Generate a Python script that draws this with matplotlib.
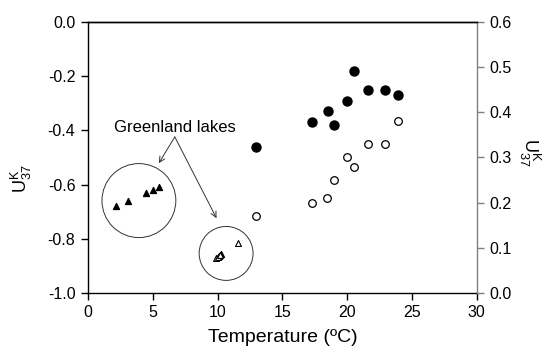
import matplotlib
matplotlib.use("Agg")
import matplotlib.pyplot as plt
from matplotlib.patches import Ellipse

plt.rcParams['font.family'] = ['Liberation Sans', 'DejaVu Sans']
plt.rcParams['mathtext.fontset'] = 'custom'
plt.rcParams['mathtext.rm'] = 'Liberation Sans'
plt.rcParams['mathtext.it'] = 'Liberation Sans'

# Filled circles: UK37 (left axis)
uk37_temp = [13.0, 17.3, 18.5, 19.0, 20.0, 20.5, 21.6, 22.9, 23.9]
uk37_vals = [-0.46, -0.37, -0.33, -0.38, -0.29, -0.18, -0.25, -0.25, -0.27]
# Open circles: UK'37 (right axis)
uk37p_temp = [12.95, 17.25, 18.45, 19.0, 20.0, 20.5, 21.6, 22.9, 23.95]
uk37p_vals = [0.17, 0.20, 0.21, 0.25, 0.30, 0.28, 0.33, 0.33, 0.38]
# Greenland lakes, filled triangles (left axis)
gl_temp = [2.15, 3.1, 4.5, 5.0, 5.45, 10.1, 10.3]
gl_vals = [-0.68, -0.66, -0.63, -0.62, -0.61, -0.862, -0.857]
# Greenland lakes, open triangles (right axis)
glp_temp = [9.9, 10.05, 10.2, 11.55]
glp_vals = [0.077, 0.080, 0.083, 0.111]

fig = plt.figure(figsize=(5.43, 3.58), dpi=100)
ax = fig.add_axes([0.162, 0.1816, 0.716, 0.757])
ax2 = ax.twinx()

ax.scatter(uk37_temp, uk37_vals, s=42, c='black', marker='o', zorder=3)
ax.scatter(gl_temp, gl_vals, s=18, c='black', marker='^', zorder=3)
ax2.scatter(uk37p_temp, uk37p_vals, s=30, facecolors='white', edgecolors='black',
            linewidths=0.9, marker='o', zorder=3)
ax2.scatter(glp_temp, glp_vals, s=18, facecolors='white', edgecolors='black',
            linewidths=0.8, marker='^', zorder=2)

ax.set_xlim(0, 30)
ax.set_ylim(-1.0, 0.0)
ax2.set_ylim(0.0, 0.6)
ax.set_xticks([0, 5, 10, 15, 20, 25, 30])
ax.set_yticks([-1.0, -0.8, -0.6, -0.4, -0.2, 0.0])
ax.set_yticklabels(['-1.0', '-0.8', '-0.6', '-0.4', '-0.2', '0.0'])
ax2.set_yticks([0.0, 0.1, 0.2, 0.3, 0.4, 0.5, 0.6])
ax2.set_yticklabels(['0.0', '0.1', '0.2', '0.3', '0.4', '0.5', '0.6'])

ax.tick_params(axis='both', direction='out', length=5, width=1, labelsize=11.5, pad=4)
ax2.tick_params(axis='y', direction='out', length=5, width=1, color='#808080', labelsize=11.5, pad=4)

for s in ['left', 'bottom', 'top']:
    ax.spines[s].set_linewidth(1.0)
ax2.spines['right'].set_color('#808080')
ax2.spines['right'].set_linewidth(1.0)
ax.spines['right'].set_visible(False)
ax2.spines['left'].set_visible(False)
ax2.spines['top'].set_linewidth(1.0)
ax2.spines['bottom'].set_visible(False)

ax.set_xlabel('Temperature (ºC)', fontsize=14, labelpad=6)
ax.set_ylabel(r'U$^{\mathrm{K}}_{\mathrm{37}}$', fontsize=13, va='center')
ax.yaxis.set_label_coords(-0.17, 0.42)
ax2.set_ylabel(r'U$^{\mathrm{K}}_{\mathrm{37}}$', fontsize=13, rotation=270, va='center')
ax2.yaxis.set_label_coords(1.136, 0.52)

# Circles around Greenland lake clusters
ax.add_patch(Ellipse((3.93, -0.659), 5.7, 0.273, fill=False, edgecolor='#333333', linewidth=0.7))
ax.add_patch(Ellipse((10.66, -0.854), 4.16, 0.199, fill=False, edgecolor='#333333', linewidth=0.7))

ax.text(6.7, -0.391, 'Greenland lakes', fontsize=12, ha='center', va='center')
ax.annotate('', xy=(5.47, -0.521), xytext=(6.7, -0.424),
            arrowprops=dict(arrowstyle='->', color='#333333', linewidth=0.7, shrinkA=0, shrinkB=0))
ax.annotate('', xy=(9.92, -0.724), xytext=(6.7, -0.424),
            arrowprops=dict(arrowstyle='->', color='#333333', linewidth=0.7, shrinkA=0, shrinkB=0))

fig.savefig('out.png', dpi=100)
